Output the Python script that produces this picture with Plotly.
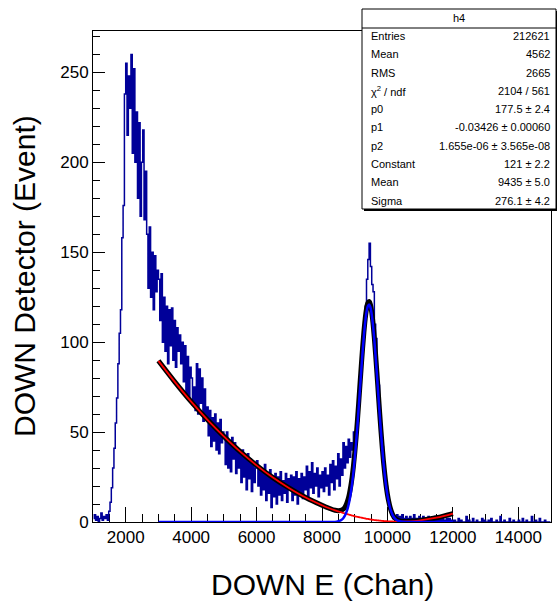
import numpy as np
import plotly.graph_objects as go

# histogram h4: 40-channel bins from 1000 to 15000, counts
BIN_LO = 1000
BIN_W = 40
counts = [
    # 1000-2000
    2, 4, 1, 3, 0, 2, 5, 1, 3, 2, 4, 1, 6, 11, 19, 30, 41, 55, 69, 88, 105, 118, 158, 176, 238,
    # 2000-3000
    255, 215, 248, 230, 260, 205, 252, 200, 228, 180, 222, 170, 200, 218, 168, 195,
    160, 130, 164, 125, 150, 118, 148, 128, 140,
    # 3000-4000
    135, 112, 138, 100, 125, 95, 120, 88, 118, 98, 119, 90, 112, 86, 108, 95, 104, 88, 100,
    78, 98, 70, 92, 68, 86,
    # 4000-5000
    80, 65, 75, 62, 88, 60, 85, 66, 80, 56, 74, 58, 64, 48, 62, 42, 58, 45, 60, 40, 55, 38, 57, 44, 50,
    # 5000-6000
    48, 32, 50, 30, 45, 28, 47, 35, 44, 27, 41, 30, 38, 22, 40, 25, 36, 18, 38, 24, 35, 17, 33, 22, 30,
    # 6000-7000
    34, 20, 30, 15, 28, 18, 32, 12, 26, 16, 29, 8, 24, 14, 27, 10, 25, 15, 28, 12, 23, 16, 27, 11, 24,
    # 7000-8000
    18, 26, 12, 25, 15, 28, 10, 24, 16, 27, 13, 25, 18, 31, 14, 28, 19, 33, 16, 27, 20, 30, 14, 26, 19,
    # 8000-9000
    28, 17, 30, 20, 26, 15, 32, 22, 34, 18, 31, 24, 38, 20, 35, 26, 44, 30, 42, 33, 46, 36, 44, 40, 50,
    # 9000-10000
    44, 50, 56, 66, 75, 90, 98, 108, 120, 135, 146, 155, 142, 132, 128, 110, 102, 84, 76, 62, 52, 42, 33, 27, 20,
    # 10000-11000
    15, 10, 6, 4, 2, 3, 1, 4, 2, 3, 1, 4, 2, 1, 3, 2, 0, 3, 1, 2, 4, 1, 2, 0, 3,
    # 11000-12000
    2, 1, 3, 0, 2, 1, 3, 2, 0, 2, 1, 3, 1, 2, 0, 2, 1, 3, 1, 0, 2, 1, 2, 0, 1,
    # 12000-13000
    0, 1, 0, 0, 2, 0, 1, 0, 0, 0, 3, 0, 1, 0, 0, 2, 0, 0, 1, 0, 0, 0, 2, 0, 1,
    # 13000-14000
    0, 0, 1, 0, 2, 0, 0, 0, 1, 0, 0, 3, 0, 0, 1, 0, 0, 0, 2, 0, 0, 1, 0, 0, 0,
    # 14000-15000
    1, 0, 0, 2, 0, 0, 1, 0, 0, 0, 3, 0, 0, 1, 0, 0, 2, 0, 0, 0, 1, 0, 0, 0, 0,
]

# fit components (pol2 background + gaus)
fit_x = [3000, 3500, 4000, 4500, 5000, 5500, 6000, 6500, 7000, 7500, 8000, 8200, 8400, 8500,
         8600, 8650, 8700, 8750, 8800, 8840, 8880, 8920, 8960, 9000, 9040, 9080, 9120, 9160,
         9200, 9240, 9280, 9320, 9360, 9400, 9440, 9480, 9520, 9560, 9600, 9640, 9680, 9720,
         9760, 9800, 9840, 9880, 9920, 9960, 10000, 10040, 10080, 10120, 10160, 10200, 10240,
         10320, 10400, 10600, 10800, 11000, 11500, 12000]
fit_bkg = [89.6, 77.9, 66.9, 56.8, 47.6, 39.1, 31.5, 24.7, 18.8, 13.6, 9.3, 7.8, 6.5, 5.9,
           5.3, 5.0, 4.7, 4.5, 4.2, 4.0, 3.8, 3.6, 3.4, 3.2, 3.0, 2.9, 2.7, 2.6,
           2.4, 2.3, 2.1, 2.0, 1.8, 1.7, 1.6, 1.4, 1.3, 1.2, 1.1, 1.0, 0.9, 0.85,
           0.8, 0.7, 0.6, 0.55, 0.5, 0.45, 0.4, 0.35, 0.32, 0.3, 0.27, 0.25, 0.22,
           0.2, 0.2, 0.3, 0.5, 0.9, 2.4, 4.7]
fit_gaus = [0, 0, 0, 0, 0, 0, 0, 0, 0, 0, 0, 0, 0, 0.4,
            1.25, 2.1, 3.5, 5.6, 8.6, 11.9, 16.1, 21.3, 27.6, 35.0, 43.5, 52.9, 63.1, 73.7,
            84.2, 94.3, 103.4, 110.9, 116.6, 120.0, 121.0, 119.4, 115.4, 109.2, 101.2, 91.8, 81.6, 71.0,
            60.5, 50.5, 41.3, 33.0, 25.9, 19.8, 14.9, 11.0, 7.9, 5.6, 3.8, 2.6, 1.7,
            0.7, 0.3, 0, 0, 0, 0, 0]

stats_labels = ["Entries", "Mean", "RMS", "χ<sup>2</sup> / ndf", "p0", "p1", "p2",
                "Constant", "Mean", "Sigma"]
stats_values = ["212621", "4562", "2665", "2104 / 561", "177.5 ± 2.4",
                "-0.03426 ± 0.00060", "1.655e-06 ± 3.565e-08", "121 ± 2.2",
                "9435 ± 5.0", "276.1 ± 4.2"]

FONT = "Liberation Sans, Arial, Helvetica, sans-serif"
W, H = 558, 606
L, R, T, B = 93, 551, 31, 522


def px(x):
    return (x - L) / (R - L)


def py(y):
    return (B - y) / (B - T)


centers = BIN_LO + BIN_W / 2 + BIN_W * np.arange(len(counts))
fit_total = np.array(fit_bkg) + np.array(fit_gaus)

fig = go.Figure()
fig.add_trace(go.Scatter(x=centers, y=counts, mode="lines", line_shape="hvh",
                         line=dict(color="#000099", width=1.5), hoverinfo="skip"))
fig.add_trace(go.Scatter(x=fit_x, y=fit_total, mode="lines", line_shape="spline",
                         line=dict(color="black", width=5)))
fig.add_trace(go.Scatter(x=fit_x, y=fit_bkg, mode="lines", line_shape="spline",
                         line=dict(color="#ff0000", width=1.8)))
fig.add_trace(go.Scatter(x=fit_x, y=fit_gaus, mode="lines", line_shape="spline",
                         line=dict(color="#0000ff", width=2.5)))

# stats box
bx0, bx1, by0, by1, hy = 362, 556, 9, 209, 28
shapes = [
    dict(type="rect", xref="paper", yref="paper", x0=px(bx0 + 2), x1=px(bx1 + 1),
         y0=py(by0 + 2), y1=py(by1 + 2), fillcolor="black", line=dict(width=0), layer="above"),
    dict(type="rect", xref="paper", yref="paper", x0=px(bx0), x1=px(bx1),
         y0=py(by0), y1=py(by1), fillcolor="white", line=dict(color="black", width=1), layer="above"),
    dict(type="line", xref="paper", yref="paper", x0=px(bx0), x1=px(bx1),
         y0=py(hy), y1=py(hy), line=dict(color="black", width=1), layer="above"),
]
annotations = [dict(xref="paper", yref="paper", x=px((bx0 + bx1) / 2), y=py(18), text="h4",
                    showarrow=False, xanchor="center", yanchor="middle",
                    font=dict(family=FONT, size=11, color="black"))]
for i, (lab, val) in enumerate(zip(stats_labels, stats_values)):
    yy = py(36 + 18.3 * i)
    annotations.append(dict(xref="paper", yref="paper", x=px(369), y=yy, text=lab,
                            showarrow=False, xanchor="left", yanchor="middle",
                            font=dict(family=FONT, size=11, color="black")))
    annotations.append(dict(xref="paper", yref="paper", x=px(552), y=yy, text=val,
                            showarrow=False, xanchor="right", yanchor="middle",
                            font=dict(family=FONT, size=11, color="black")))

# axis titles
annotations.append(dict(xref="paper", yref="paper", x=px(322), y=py(584), text="DOWN E (Chan)",
                        showarrow=False, xanchor="center", yanchor="middle",
                        font=dict(family=FONT, size=30, color="black")))
annotations.append(dict(xref="paper", yref="paper", x=px(24), y=py(276), text="DOWN Detector (Event)",
                        showarrow=False, xanchor="center", yanchor="middle", textangle=-90,
                        font=dict(family=FONT, size=30, color="black")))

fig.update_layout(
    width=W, height=H,
    margin=dict(l=L, r=W - R, t=T, b=H - B),
    paper_bgcolor="white", plot_bgcolor="white",
    showlegend=False,
    font=dict(family=FONT, size=17, color="black"),
    shapes=shapes, annotations=annotations,
)
fig.update_xaxes(range=[1000, 15000], showgrid=False, zeroline=False,
                 showline=True, linecolor="black", linewidth=1, mirror=True,
                 ticks="inside", tickmode="linear", tick0=0, dtick=2000, ticklen=15,
                 tickformat="d", tickcolor="black", tickwidth=1, layer="below traces",
                 minor=dict(ticks="inside", dtick=500, ticklen=8, tickcolor="black"))
fig.update_yaxes(range=[0, 273], showgrid=False, zeroline=False,
                 showline=True, linecolor="black", linewidth=1, mirror=True,
                 ticks="inside", tickmode="linear", tick0=0, dtick=50, ticklen=12,
                 tickcolor="black", tickwidth=1, layer="below traces",
                 minor=dict(ticks="inside", dtick=10, ticklen=7, tickcolor="black"))

fig.write_html("out.html", config={"displayModeBar": False},
               post_script="document.body.style.margin='0';")
